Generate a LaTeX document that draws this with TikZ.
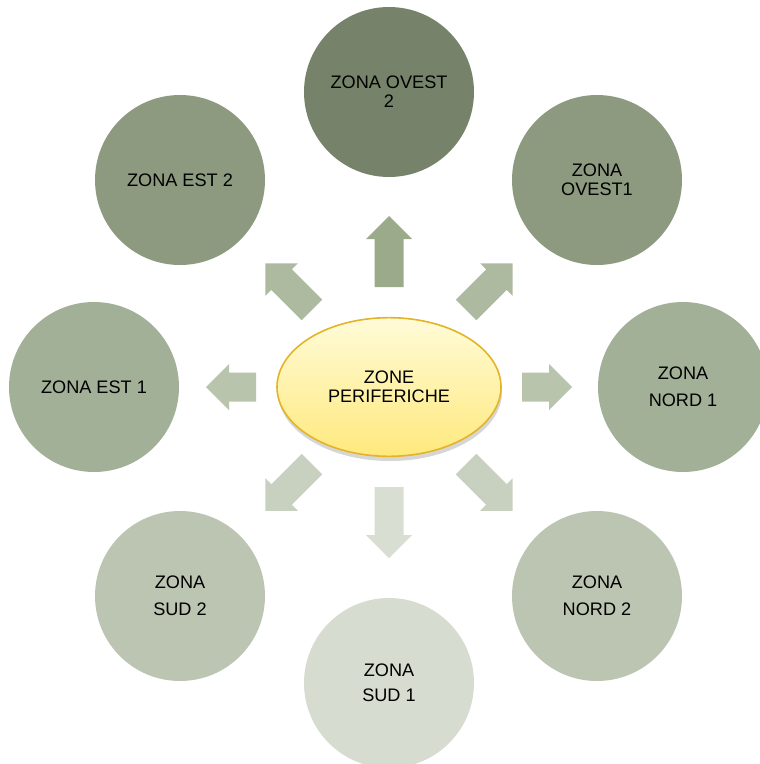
\documentclass[tikz,border=0pt]{standalone}
\usepackage{fontspec}
\setmainfont{Liberation Sans}
\usetikzlibrary{shapes.geometric}

\definecolor{zoneA}{RGB}{118,131,106}
\definecolor{zoneB}{RGB}{141,154,128}
\definecolor{zoneC}{RGB}{163,176,152}
\definecolor{zoneD}{RGB}{187,197,178}
\definecolor{zoneE}{RGB}{214,220,207}
\definecolor{arrA}{RGB}{156,170,140}
\definecolor{arrB}{RGB}{173,186,159}
\definecolor{arrC}{RGB}{185,196,173}
\definecolor{arrD}{RGB}{200,209,191}
\definecolor{arrE}{RGB}{216,222,210}
\definecolor{hubtop}{RGB}{255,251,216}
\definecolor{hubbot}{RGB}{255,233,125}
\definecolor{hubline}{RGB}{228,180,40}

\tikzset{
  zone/.style={circle, fill=#1, minimum size=127.5pt, inner sep=0pt, align=center,
    font=\fontsize{13.6}{14.25}\selectfont},
  hub/.style={ellipse, minimum width=168pt, minimum height=104pt, inner sep=0pt,
    draw=hubline, line width=1.2pt, top color=hubtop, bottom color=hubbot, align=center,
    font=\fontsize{13.6}{14.25}\selectfont},
}

\begin{document}
\begin{tikzpicture}[x=0.75pt,y=0.75pt,yscale=-1,xscale=1]
        \useasboundingbox (0,0) rectangle (760,764);
        % Shadow under the centre
        \fill [black, opacity=0.16] (390,392) ellipse [x radius=112, y radius=69];
        % Centre
        \node [hub] (c) at (389,387) {ZONE\\PERIFERICHE};
        % Block arrows (angles measured downwards, y axis is flipped)
        \foreach \ang/\rin/\rout/\col in {-90/100/171/arrA, -45/109/175/arrB, 0/133/183/arrC,
            45/109/175/arrD, 90/100/171/arrE, 135/109/175/arrD, 180/133/183/arrC, -135/109/175/arrB}
          \fill [\col, shift={(389,387)}, rotate=\ang] (\rin,-14.5) -- (\rout-23,-14.5) -- (\rout-23,-23)
            -- (\rout,0) -- (\rout-23,23) -- (\rout-23,14.5) -- (\rin,14.5) -- cycle;
        % Zones
        \node [zone=zoneA] (ovest2) at (389,92) {ZONA OVEST\\2};
        \node [zone=zoneB] (ovest1) at (597,180) {ZONA\\OVEST1};
        \node [zone=zoneC] (nord1) at (683,387) {ZONA\\[6pt]NORD 1};
        \node [zone=zoneD] (nord2) at (597,596) {ZONA\\[6pt]NORD 2};
        \node [zone=zoneE] (sud1) at (389,683) {ZONA\\[4.5pt]SUD 1};
        \node [zone=zoneD] (sud2) at (180,596) {ZONA\\[6pt]SUD 2};
        \node [zone=zoneC] (est1) at (94,387) {ZONA EST 1};
        \node [zone=zoneB] (est2) at (180,180) {ZONA EST 2};
\end{tikzpicture}
\end{document}
